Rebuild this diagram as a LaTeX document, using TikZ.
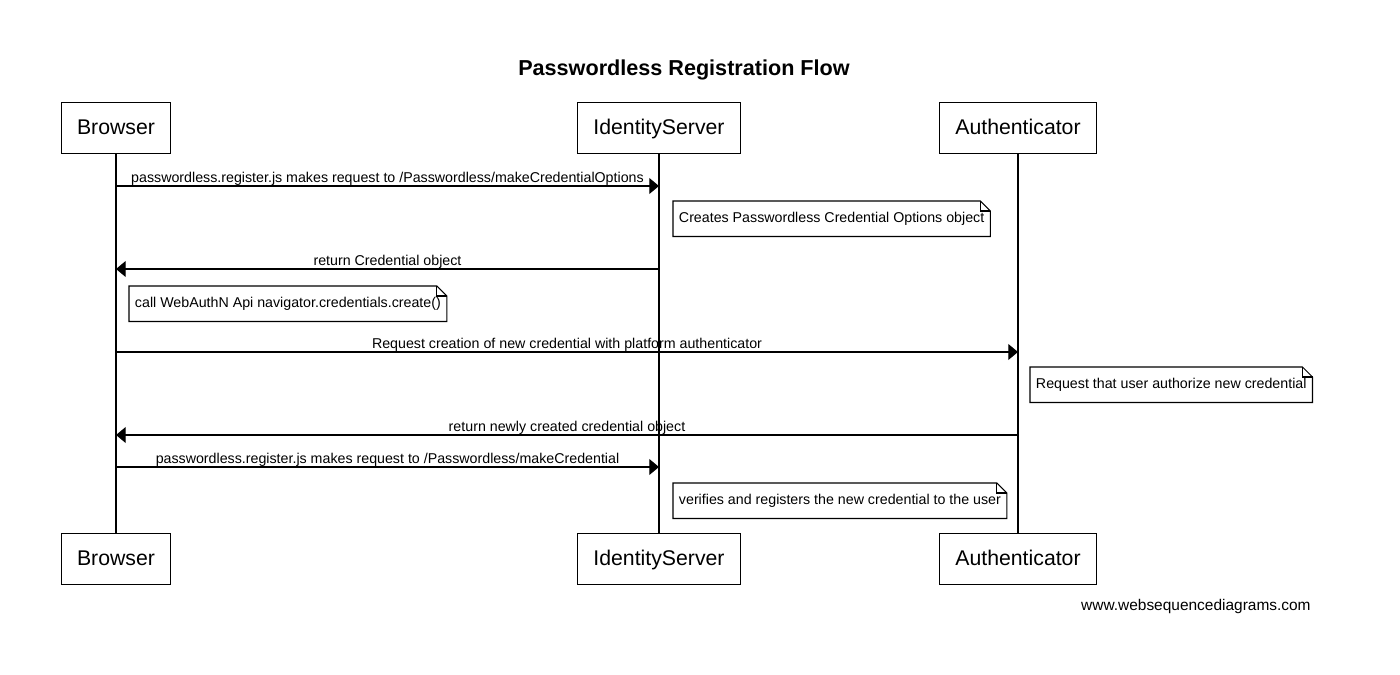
\documentclass[tikz,border=0pt]{standalone}
\usepackage{fontspec}
\setmainfont{Liberation Sans}
\usetikzlibrary{arrows.meta,positioning}
\newcommand{\msgfont}{\fontsize{8.1}{9.7}\selectfont}
\newcommand{\foldsize}{5.7pt}
% note box with a folded corner: name, position, text
\newcommand{\notebox}[3]{%
  \node[notetext] (#1) at #2 {#3};
  \draw[noteline] (#1.north west) -- ([xshift=-\foldsize]#1.north east)
    -- ([yshift=-\foldsize]#1.north east) -- (#1.south east) -- (#1.south west) -- cycle;
  \draw[noteline] ([xshift=-\foldsize]#1.north east) |- ([yshift=-\foldsize]#1.north east);
}
\tikzset{
  actor/.style={draw=black,line width=0.6pt,minimum height=29.5pt,inner xsep=9pt,
    text height=0.72em,text depth=0pt,font=\fontsize{12.1}{14}\selectfont},
  msg/.style={line width=0.6pt,-{Triangle[length=5.5pt,width=9pt]}},
  msglabel/.style={above,midway,inner sep=0.2pt,text depth=1.3pt,font=\msgfont},
  notetext/.style={anchor=north west,inner xsep=3.2pt,minimum height=19.8pt,font=\msgfont},
  noteline/.style={line width=0.6pt},
  lifeline/.style={line width=0.6pt},
}

\begin{document}
\begin{tikzpicture}[x=0.02cm,y=-0.02cm]
\useasboundingbox (0,0) rectangle (1400,675);
% \draw[help lines,step=100] (0,0) grid (1400,675);
\node (title) at (684,70) {\fontsize{12.3}{14}\selectfont\bfseries Passwordless Registration Flow};
%
\node (bt) [actor] at (116,128) {Browser};
\node (it) [actor] at (659,128) {IdentityServer};
\node (at) [actor] at (1018,128) {Authenticator};
\node (bb) [actor] at (116,559) {Browser};
\node (ib) [actor] at (659,559) {IdentityServer};
\node (ab) [actor] at (1018,559) {Authenticator};
%
\draw[lifeline] (bt.south) -- (bb.north);
\draw[lifeline] (it.south) -- (ib.north);
\draw[lifeline] (at.south) -- (ab.north);
%
\foreach \y/\n in {186/1,269/2,352/3,435/4,467/5} {
  \coordinate (b\n) at (116,\y);
  \coordinate (i\n) at (659,\y);
  \coordinate (a\n) at (1018,\y);
}
%
\draw[msg] (b1) -- node[msglabel] {passwordless.register.js makes request to /Passwordless/makeCredentialOptions} (i1);
\notebox{n1}{(673,201)}{Creates Passwordless Credential Options object}
\draw[msg] (i2) -- node[msglabel] {return Credential object} (b2);
\notebox{n2}{(129,286)}{call WebAuthN Api navigator.credentials.create()}
\draw[msg] (b3) -- node[msglabel] {Request creation of new credential with platform authenticator} (a3);
\notebox{n3}{(1030,367)}{Request that user authorize new credential}
\draw[msg] (a4) -- node[msglabel] {return newly created credential object} (b4);
\draw[msg] (b5) -- node[msglabel] {passwordless.register.js makes request to /Passwordless/makeCredential} (i5);
\notebox{n4}{(673,483)}{verifies and registers the new credential to the user}
%
\node (footer) [anchor=east,inner sep=0pt,font=\fontsize{8.8}{10}\selectfont] at (1311,607) {www.websequencediagrams.com};
\end{tikzpicture}
\end{document}
